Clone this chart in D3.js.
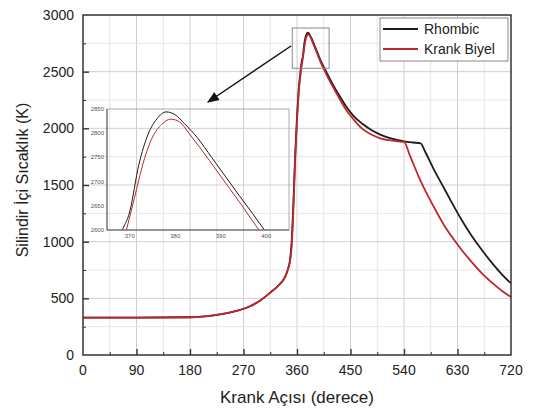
<!DOCTYPE html>
<html>
<head>
<meta charset="utf-8">
<script src="https://cdn.jsdelivr.net/npm/d3@7"></script>
<style>
  body { margin: 0; background: #fff; }
  text { font-family: "Liberation Sans", Arial, sans-serif; }
</style>
</head>
<body>
<div id="chart"></div>
<script>
// Krank açısı (derece) ve sıcaklık (K) değerleri
const rhombicAngle = [0, 90, 180, 200, 220, 240, 260, 280, 300, 315, 330, 340, 345, 348, 351, 354, 357, 360, 363, 366, 368, 370, 372, 374, 376, 378, 380, 382, 385, 388, 391, 394, 397, 400, 405, 410, 420, 430, 443, 455, 470, 485, 500, 515, 530, 540, 555, 568, 575, 590, 609, 623, 637, 654, 671, 690, 705, 720];
const rhombicTemp  = [330, 330, 333, 338, 350, 368, 392, 428, 488, 550, 620, 690, 760, 830, 1000, 1350, 1780, 2100, 2350, 2510, 2590, 2638, 2735, 2797, 2830, 2844, 2838, 2820, 2789, 2750, 2711, 2672, 2634, 2595, 2540, 2490, 2390, 2300, 2190, 2110, 2040, 1985, 1945, 1915, 1895, 1885, 1875, 1868, 1800, 1640, 1456, 1320, 1191, 1050, 926, 800, 710, 632];

const krankAngle = [0, 90, 180, 200, 220, 240, 260, 280, 300, 315, 330, 340, 345, 348, 351, 354, 357, 360, 363, 366, 369, 371, 373, 375, 377, 379, 381, 383, 386, 389, 392, 395, 398, 400, 405, 410, 420, 430, 443, 455, 470, 485, 500, 515, 530, 540, 550, 565, 581, 595, 609, 623, 637, 654, 671, 690, 705, 720];
const krankTemp  = [330, 330, 333, 338, 350, 368, 392, 428, 488, 550, 620, 690, 760, 820, 960, 1300, 1730, 2060, 2320, 2480, 2590, 2665, 2740, 2792, 2818, 2829, 2823, 2800, 2763, 2724, 2685, 2646, 2605, 2580, 2525, 2470, 2370, 2275, 2160, 2080, 1995, 1945, 1912, 1895, 1885, 1880, 1760, 1570, 1397, 1260, 1132, 1025, 926, 820, 721, 630, 565, 512];

const xTicks = [0, 90, 180, 270, 360, 450, 540, 630, 720];
const yTicks = [0, 500, 1000, 1500, 2000, 2500, 3000];
const insetXTicks = [370, 380, 390, 400];
const insetYTicks = [2600, 2650, 2700, 2750, 2800, 2850];

const series = [
    { name: "Rhombic", color: "#1c1c1c", values: rhombicAngle.map((a, i) => ({ a, t: rhombicTemp[i] })) },
    { name: "Krank Biyel", color: "#c0282d", values: krankAngle.map((a, i) => ({ a, t: krankTemp[i] })) }
];

const W = 533, H = 410;
const plot = { left: 83, right: 511, top: 15, bottom: 355 };

const svg = d3.select("#chart").append("svg").attr("width", W).attr("height", H);

const x = d3.scaleLinear().domain([0, 720]).range([plot.left, plot.right]);
const y = d3.scaleLinear().domain([0, 3000]).range([plot.bottom, plot.top]);

// Izgara çizgileri (ana ve ara)
const grid = svg.append("g");
grid.selectAll(".gx").data(d3.range(45, 720, 45)).join("line")
    .attr("x1", d => x(d)).attr("x2", d => x(d))
    .attr("y1", plot.top).attr("y2", plot.bottom)
    .attr("stroke", d => d % 90 === 0 ? "#cfcfcf" : "#e6e6e6").attr("stroke-width", 1);
grid.selectAll(".gy").data(d3.range(250, 3000, 250)).join("line")
    .attr("x1", plot.left).attr("x2", plot.right)
    .attr("y1", d => y(d)).attr("y2", d => y(d))
    .attr("stroke", d => d % 500 === 0 ? "#cfcfcf" : "#e6e6e6").attr("stroke-width", 1);

// Eksenler (içe dönük çentikler)
svg.append("g").attr("transform", `translate(0,${plot.bottom})`)
    .call(d3.axisTop(x).tickValues(d3.range(45, 720, 45)).tickSize(4).tickFormat(""))
    .call(g => g.select(".domain").remove())
    .selectAll("line").attr("stroke", "#333").attr("stroke-width", d => d % 90 === 0 ? 1.4 : 1)
    .attr("y2", d => d % 90 === 0 ? -6 : -3);
svg.append("g").attr("transform", `translate(${plot.left},0)`)
    .call(d3.axisRight(y).tickValues(d3.range(250, 3000, 250)).tickSize(4).tickFormat(""))
    .call(g => g.select(".domain").remove())
    .selectAll("line").attr("stroke", "#333").attr("stroke-width", d => d % 500 === 0 ? 1.4 : 1)
    .attr("x2", d => d % 500 === 0 ? 6 : 3);

svg.append("g").selectAll("text").data(xTicks).join("text")
    .attr("x", d => x(d)).attr("y", 375)
    .attr("text-anchor", "middle").attr("font-size", 14).attr("fill", "#222")
    .text(d => d);
svg.append("g").selectAll("text").data(yTicks).join("text")
    .attr("x", 74).attr("y", d => y(d) + 5)
    .attr("text-anchor", "end").attr("font-size", 14).attr("fill", "#222")
    .text(d => d);

svg.append("text").attr("x", 297).attr("y", 403)
    .attr("text-anchor", "middle").attr("font-size", 17).attr("fill", "#222")
    .text("Krank Açısı (derece)");
svg.append("text")
    .attr("transform", `translate(28,180) rotate(-90)`)
    .attr("text-anchor", "middle").attr("font-size", 16).attr("fill", "#222")
    .text("Silindir İçi Sıcaklık (K)");

// Eğriler
const line = d3.line().x(d => x(d.a)).y(d => y(d.t)).curve(d3.curveMonotoneX);
svg.append("g").selectAll("path").data(series).join("path")
    .attr("d", d => line(d.values))
    .attr("fill", "none").attr("stroke", d => d.color).attr("stroke-width", 1.8);

// Çerçeve
svg.append("rect").attr("x", plot.left).attr("y", plot.top)
    .attr("width", plot.right - plot.left).attr("height", plot.bottom - plot.top)
    .attr("fill", "none").attr("stroke", "#333").attr("stroke-width", 1.5);

// Tepe bölgesi kutusu
svg.append("rect")
    .attr("x", x(352)).attr("y", y(2885))
    .attr("width", x(414) - x(352)).attr("height", y(2530) - y(2885))
    .attr("fill", "none").attr("stroke", "#888").attr("stroke-width", 1);

// Ok
svg.append("defs").append("marker").attr("id", "arrow")
    .attr("viewBox", "0 0 10 10").attr("refX", 9).attr("refY", 5)
    .attr("markerWidth", 8).attr("markerHeight", 8).attr("orient", "auto")
    .append("path").attr("d", "M0,1 L10,5 L0,9 Z").attr("fill", "#111");
svg.append("line").attr("x1", 291).attr("y1", 46).attr("x2", 208).attr("y2", 102)
    .attr("stroke", "#111").attr("stroke-width", 1.5).attr("marker-end", "url(#arrow)");

// Yakınlaştırılmış iç grafik
const inset = { left: 107, right: 289, top: 109, bottom: 230 };
const xi = d3.scaleLinear().domain([365, 405]).range([inset.left, inset.right]);
const yi = d3.scaleLinear().domain([2600, 2850]).range([inset.bottom, inset.top]);

svg.append("clipPath").attr("id", "insetClip").append("rect")
    .attr("x", inset.left).attr("y", inset.top)
    .attr("width", inset.right - inset.left).attr("height", inset.bottom - inset.top);

const lineInset = d3.line().x(d => xi(d.a)).y(d => yi(d.t)).curve(d3.curveMonotoneX);
svg.append("g").attr("clip-path", "url(#insetClip)")
    .selectAll("path").data(series).join("path")
    .attr("d", d => lineInset(d.values.filter(v => v.a >= 355 && v.a <= 420)))
    .attr("fill", "none").attr("stroke", d => d.color).attr("stroke-width", 1);

svg.append("rect").attr("x", inset.left).attr("y", inset.top)
    .attr("width", inset.right - inset.left).attr("height", inset.bottom - inset.top)
    .attr("fill", "none").attr("stroke", "#999").attr("stroke-width", 0.8);
svg.append("line").attr("x1", inset.left).attr("x2", inset.left)
    .attr("y1", inset.top).attr("y2", inset.bottom).attr("stroke", "#555").attr("stroke-width", 1);
svg.append("line").attr("x1", inset.left).attr("x2", inset.right)
    .attr("y1", inset.bottom).attr("y2", inset.bottom).attr("stroke", "#555").attr("stroke-width", 1);

svg.append("g").selectAll("text").data(insetXTicks).join("text")
    .attr("x", d => xi(d)).attr("y", inset.bottom + 8)
    .attr("text-anchor", "middle").attr("font-size", 6).attr("fill", "#555")
    .text(d => d);
svg.append("g").selectAll("text").data(insetYTicks).join("text")
    .attr("x", inset.left - 3).attr("y", d => yi(d) + 2)
    .attr("text-anchor", "end").attr("font-size", 6).attr("fill", "#555")
    .text(d => d);

// Gösterge
const legend = svg.append("g");
legend.append("rect").attr("x", 380).attr("y", 18).attr("width", 128).attr("height", 43)
    .attr("fill", "#fff").attr("stroke", "#888").attr("stroke-width", 1);
series.forEach((s, i) => {
    const ly = 29 + i * 20;
    legend.append("line").attr("x1", 383).attr("x2", 418).attr("y1", ly).attr("y2", ly)
        .attr("stroke", s.color).attr("stroke-width", 2);
    legend.append("text").attr("x", 424).attr("y", ly + 5)
        .attr("font-size", 14).attr("fill", "#222").text(s.name);
});
</script>
</body>
</html>
